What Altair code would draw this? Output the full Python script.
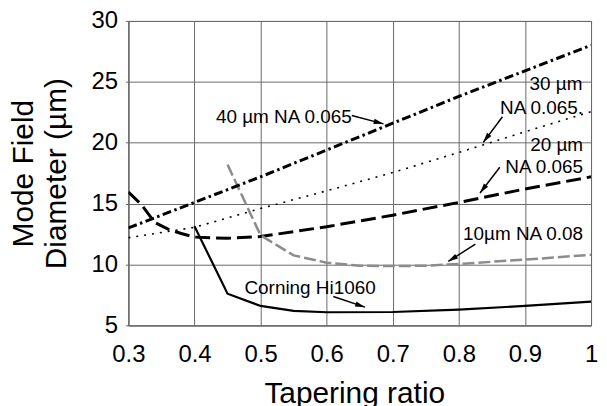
import math
import altair as alt
import pandas as pd

# ---------------- data ----------------
x40 = [0.3, 0.4, 0.5, 0.6, 0.7, 0.8, 0.9, 1.0]
y40 = [13.0, 15.1, 17.2, 19.4, 21.6, 23.8, 25.9, 28.0]

x30 = [0.3, 0.4, 0.5, 0.6, 0.7, 0.8, 0.9, 1.0]
y30 = [12.2, 13.05, 14.6, 16.05, 17.55, 19.2, 20.9, 22.55]

x20 = [0.3, 0.32, 0.34, 0.36, 0.38, 0.4, 0.45, 0.5, 0.6, 0.7, 0.8, 0.9, 1.0]
y20 = [15.95, 14.9, 13.45, 12.9, 12.55, 12.25, 12.15, 12.3, 13.1, 14.05, 15.1, 16.2, 17.2]

x10 = [0.45, 0.5, 0.55, 0.6, 0.65, 0.7, 0.75, 0.8, 0.9, 1.0]
y10 = [18.2, 12.4, 10.75, 10.15, 9.9, 9.87, 9.9, 10.05, 10.4, 10.8]

xhi = [0.4, 0.45, 0.5, 0.55, 0.6, 0.7, 0.8, 0.9, 1.0]
yhi = [13.15, 7.6, 6.6, 6.2, 6.08, 6.1, 6.3, 6.6, 6.95]

x_ticks = [0.3, 0.4, 0.5, 0.6, 0.7, 0.8, 0.9, 1.0]
y_ticks = [5, 10, 15, 20, 25, 30]

# annotation texts
right_labels = ["40 µm NA 0.065", "30 µm", "NA 0.065.", "20 µm", "NA 0.065", "10µm NA 0.08"]
right_x = [0.638, 0.987, 0.988, 0.988, 0.988, 0.988]
right_y = [22.1, 24.8, 22.87, 19.84, 17.97, 12.49]

left_labels = ["Corning Hi1060"]
left_x = [0.4756]
left_y = [8.06]

# arrows: tail -> tip
arrow_x1 = [0.638, 0.866, 0.862, 0.825, 0.610]
arrow_y1 = [22.23, 22.13, 17.99, 11.67, 7.37]
arrow_x2 = [0.686, 0.837, 0.832, 0.784, 0.658]
arrow_y2 = [21.55, 20.03, 15.87, 10.25, 6.5]

# ---------------- layout ----------------
W, H = 465, 306
FONT = "Liberation Sans"
GRID = "#6a6a6a"

xs = alt.Scale(domain=[0.3, 1.0], nice=False, zero=False)
ys = alt.Scale(domain=[5, 30], nice=False, zero=False)

x_axis = alt.Axis(values=x_ticks, format="~g", title="Tapering ratio",
                  grid=True, gridColor=GRID, gridOpacity=1, gridWidth=1,
                  domainColor=GRID, tickSize=0, labelPadding=17,
                  labelFont=FONT, labelFontSize=24, labelColor="black",
                  labelFlush=False, labelOverlap=False,
                  titleFont=FONT, titleFontSize=30, titleFontWeight="normal",
                  titleColor="black", titleBaseline="alphabetic",
                  titleY=77, titleX=227)
y_axis = alt.Axis(values=y_ticks, format="~g", title=["Mode Field", "Diameter (µm)"],
                  grid=True, gridColor=GRID, gridOpacity=1, gridWidth=1,
                  domainColor=GRID, tickColor=GRID, tickSize=3, labelPadding=8,
                  labelFont=FONT, labelFontSize=24, labelColor="black",
                  labelFlush=False, labelOverlap=False,
                  titleFont=FONT, titleFontSize=30, titleFontWeight="normal",
                  titleColor="black", titleAngle=270, titleAlign="center",
                  titleBaseline="alphabetic", titleLineHeight=33,
                  titleX=-96, titleY=H / 2)


def enc(chart):
    return chart.encode(
        x=alt.X("x:Q", scale=xs, axis=x_axis),
        y=alt.Y("y:Q", scale=ys, axis=y_axis),
    )


def line(xv, yv, **style):
    df = pd.DataFrame({"x": xv, "y": yv})
    return enc(alt.Chart(df).mark_line(clip=True, **style))


l40 = line(x40, y40, color="black", strokeWidth=3, strokeDash=[9, 3.5, 2.5, 3.5])
l30 = line(x30, y30, color="black", strokeWidth=1.6, strokeDash=[2, 6])
l20 = line(x20, y20, color="black", strokeWidth=3, strokeDash=[15, 6])
l10 = line(x10, y10, color="#8c8c8c", strokeWidth=2.5, strokeDash=[12, 4])
lhi = line(xhi, yhi, color="black", strokeWidth=2.2)

# arrows
px_x = W / 0.7
px_y = H / 25.0
angles = []
for a, b, c, d in zip(arrow_x1, arrow_y1, arrow_x2, arrow_y2):
    dxs = (c - a) * px_x
    dys = -(d - b) * px_y
    angles.append(math.degrees(math.atan2(dxs, -dys)) % 360)

arr_df = pd.DataFrame({"x": arrow_x1, "y": arrow_y1, "x2": arrow_x2, "y2": arrow_y2,
                       "angle": angles})
shafts = alt.Chart(arr_df).mark_rule(color="black", strokeWidth=1.5).encode(
    x=alt.X("x:Q", scale=xs, axis=x_axis),
    y=alt.Y("y:Q", scale=ys, axis=y_axis),
    x2="x2:Q", y2="y2:Q",
)
heads = alt.Chart(arr_df).mark_point(
    shape="M0,0L0.6,2.2L-0.6,2.2Z", filled=True, color="black", opacity=1, size=81
).encode(
    x=alt.X("x2:Q", scale=xs, axis=x_axis),
    y=alt.Y("y2:Q", scale=ys, axis=y_axis),
    angle=alt.Angle("angle:Q", scale=None),
)

rt = enc(alt.Chart(pd.DataFrame({"x": right_x, "y": right_y, "t": right_labels})).mark_text(
    align="right", baseline="middle", font=FONT, fontSize=19, color="black"
)).encode(text="t:N")
lt = enc(alt.Chart(pd.DataFrame({"x": left_x, "y": left_y, "t": left_labels})).mark_text(
    align="left", baseline="middle", font=FONT, fontSize=19, color="black"
)).encode(text="t:N")

chart = alt.layer(l30, l20, l10, l40, lhi, shafts, heads, rt, lt).properties(
    width=W, height=H,
    padding={"left": 121, "top": 12, "right": 8, "bottom": 80},
    autosize=alt.AutoSizeParams(type="none"),
    background="white",
).configure_view(stroke=GRID)

chart.save("out.html", embed_options={"renderer": "svg", "actions": False})
